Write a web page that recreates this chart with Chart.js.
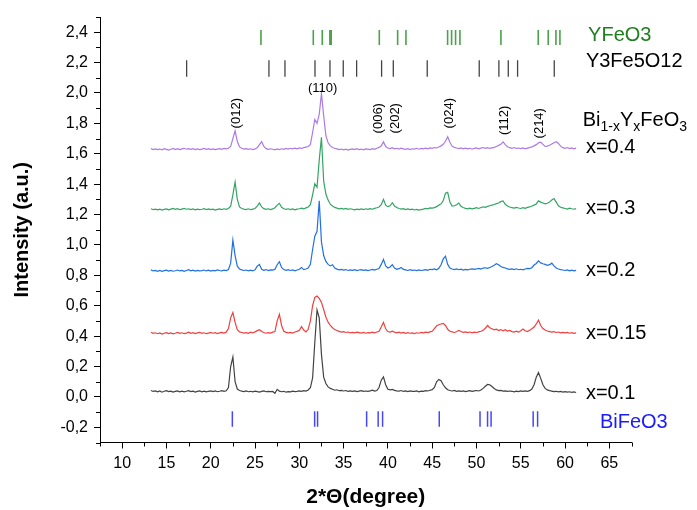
<!DOCTYPE html>
<html>
<head>
<meta charset="utf-8">
<script src="https://cdn.jsdelivr.net/npm/chart.js@4/dist/chart.umd.min.js"></script>
<style>
  body { margin: 0; background: #fff; }
</style>
</head>
<body>
<canvas id="xrd" width="697" height="510"></canvas>
<script>
Chart.defaults.font.family = '"Liberation Sans", Arial, sans-serif';
Chart.defaults.color = '#000';

// 2theta grid of the scans
const angles = [
  13.25,13.5,13.75,
  14,14.25,14.5,14.75, 15,15.25,15.5,15.75, 16,16.25,16.5,16.75, 17,17.25,17.5,17.75,
  18,18.25,18.5,18.75, 19,19.25,19.5,19.75, 20,20.25,20.5,20.75, 21,21.25,21.5,21.75,
  22,22.25,22.5,22.75, 23,23.25,23.5,23.75, 24,24.25,24.5,24.75, 25,25.25,25.5,25.75,
  26,26.25,26.5,26.75, 27,27.25,27.5,27.75, 28,28.25,28.5,28.75, 29,29.25,29.5,29.75,
  30,30.25,30.5,30.75, 31,31.25,31.5,31.75, 32,32.25,32.5,32.75, 33,33.25,33.5,33.75,
  34,34.25,34.5,34.75, 35,35.25,35.5,35.75, 36,36.25,36.5,36.75, 37,37.25,37.5,37.75,
  38,38.25,38.5,38.75, 39,39.25,39.5,39.75, 40,40.25,40.5,40.75, 41,41.25,41.5,41.75,
  42,42.25,42.5,42.75, 43,43.25,43.5,43.75, 44,44.25,44.5,44.75, 45,45.25,45.5,45.75,
  46,46.25,46.5,46.75, 47,47.25,47.5,47.75, 48,48.25,48.5,48.75, 49,49.25,49.5,49.75,
  50,50.25,50.5,50.75, 51,51.25,51.5,51.75, 52,52.25,52.5,52.75, 53,53.25,53.5,53.75,
  54,54.25,54.5,54.75, 55,55.25,55.5,55.75, 56,56.25,56.5,56.75, 57,57.25,57.5,57.75,
  58,58.25,58.5,58.75, 59,59.25,59.5,59.75, 60,60.25,60.5,60.75,
  61,61.25
];

// intensities (with vertical offsets)
const scanX01 = [
  .042,.036,.040,
  .034,.039,.031,.037, .041,.035,.038,.032, .036,.040,.034,.038, .033,.037,.041,.035,
  .038,.032,.036,.040, .034,.038,.033,.037, .040,.035,.039,.034, .037,.041,.036,.040,
  .062,.200,.262,.100, .052,.042,.038,.035, .039,.034,.037,.033, .038,.035,.032,.036,
  .040,.034,.037,.035, .036,.024,.050,.038, .034,.037,.031,.035, .033,.038,.035,.036,
  .040,.037,.041,.038, .046,.060,.125,.360, .572,.520,.280,.130, .088,.066,.056,.050,
  .044,.047,.041,.043, .039,.042,.037,.040, .036,.040,.035,.038, .041,.036,.039,.037,
  .040,.044,.038,.042, .062,.110,.132,.080, .050,.046,.049,.043, .040,.038,.042,.036,
  .039,.035,.040,.037, .036,.040,.034,.038, .037,.041,.039,.044, .048,.062,.100,.115,
  .106,.080,.060,.047, .042,.039,.043,.037, .040,.036,.039,.035, .038,.041,.036,.040,
  .042,.039,.046,.056, .070,.082,.080,.068, .055,.046,.041,.043, .038,.040,.036,.039,
  .037,.033,.038,.035, .039,.036,.040,.037, .041,.052,.080,.130, .160,.122,.080,.056,
  .046,.041,.038,.035, .037,.033,.036,.032, .035,.031,.034,.030,
  .033,.029
];

const scanX015 = [
  .425,.418,.422,
  .416,.421,.414,.419, .423,.417,.421,.415, .419,.424,.418,.422, .416,.420,.426,.419,
  .423,.417,.421,.425, .418,.422,.416,.420, .424,.419,.423,.417, .421,.425,.420,.426,
  .450,.520,.555,.490, .442,.428,.424,.420, .423,.418,.426,.421, .428,.436,.442,.430,
  .424,.419,.423,.420, .426,.430,.500,.543, .470,.432,.425,.421, .424,.420,.427,.431,
  .438,.462,.440,.428, .445,.500,.600,.655, .664,.648,.622,.575, .525,.492,.470,.455,
  .443,.437,.431,.426, .429,.424,.427,.422, .425,.421,.426,.423, .420,.424,.419,.423,
  .422,.426,.421,.427, .432,.460,.491,.448, .430,.427,.433,.426, .422,.426,.420,.424,
  .418,.423,.419,.421, .417,.422,.419,.424, .421,.426,.423,.428, .432,.450,.468,.475,
  .480,.484,.470,.445, .432,.428,.424,.429, .438,.430,.425,.428, .423,.427,.422,.426,
  .424,.428,.432,.438, .452,.470,.455,.448, .441,.446,.437,.443, .435,.442,.433,.438,
  .430,.427,.432,.426, .436,.447,.435,.430, .438,.448,.460,.480, .505,.470,.450,.440,
  .434,.430,.426,.429, .424,.427,.422,.425, .421,.424,.419,.423,
  .418,.421
];

const scanX02 = [
  .836,.829,.833,
  .827,.832,.826,.831, .834,.828,.833,.827, .830,.835,.829,.833, .827,.832,.837,.830,
  .834,.828,.833,.829, .831,.835,.829,.834, .828,.833,.830,.836, .832,.829,.834,.831,
  .838,.880,1.032,.930, .860,.842,.836,.832, .835,.830,.834,.829, .836,.860,.872,.840,
  .833,.838,.831,.836, .834,.840,.870,.890, .852,.838,.833,.837, .832,.836,.830,.835,
  .840,.852,.838,.842, .848,.872,.970,1.058, 1.090,1.290,1.020,.930, .892,.872,.862,.870,
  .848,.841,.836,.839, .834,.838,.832,.836, .833,.837,.831,.835, .838,.833,.836,.831,
  .835,.839,.834,.840, .845,.872,.905,.862, .848,.855,.870,.848, .840,.844,.852,.839,
  .836,.832,.837,.833, .835,.831,.836,.832, .834,.838,.833,.840, .838,.842,.836,.846,
  .870,.908,.926,.872, .848,.842,.838,.842, .837,.841,.835,.839, .836,.840,.843,.839,
  .842,.846,.841,.848, .850,.846,.852,.858, .866,.876,.870,.858, .852,.848,.843,.839,
  .842,.838,.843,.837, .840,.836,.842,.846, .844,.850,.868,.878, .895,.882,.876,.872,
  .866,.870,.880,.862, .848,.842,.838,.835, .832,.836,.830,.834,
  .829,.833
];

const scanX03 = [
  1.238,1.232,1.236,
  1.231,1.235,1.229,1.234, 1.237,1.231,1.236,1.240, 1.234,1.239,1.232,1.236, 1.240,1.235,1.238,1.233,
  1.237,1.231,1.236,1.232, 1.235,1.239,1.233,1.237, 1.232,1.236,1.230,1.234, 1.237,1.233,1.238,1.234,
  1.240,1.255,1.330,1.414, 1.300,1.250,1.240,1.236, 1.233,1.238,1.232,1.236, 1.240,1.255,1.276,1.250,
  1.239,1.234,1.238,1.233, 1.237,1.245,1.262,1.274, 1.248,1.238,1.234,1.238, 1.233,1.237,1.231,1.236,
  1.238,1.242,1.237,1.244, 1.250,1.265,1.330,1.402, 1.380,1.560,1.708,1.420, 1.335,1.295,1.268,1.256,
  1.247,1.242,1.238,1.241, 1.236,1.240,1.234,1.238, 1.235,1.231,1.236,1.232, 1.237,1.233,1.238,1.234,
  1.239,1.235,1.241,1.245, 1.250,1.265,1.300,1.262, 1.252,1.258,1.278,1.256, 1.246,1.240,1.236,1.239,
  1.233,1.237,1.232,1.235, 1.230,1.234,1.229,1.233, 1.236,1.240,1.238,1.244, 1.242,1.246,1.252,1.262,
  1.270,1.292,1.340,1.346, 1.282,1.256,1.258,1.265, 1.276,1.255,1.246,1.241, 1.238,1.242,1.237,1.241,
  1.245,1.240,1.246,1.251, 1.248,1.254,1.258,1.262, 1.266,1.272,1.276,1.285, 1.290,1.268,1.256,1.250,
  1.246,1.242,1.247,1.243, 1.240,1.245,1.241,1.247, 1.250,1.256,1.262,1.270, 1.290,1.282,1.276,1.270,
  1.274,1.282,1.296,1.305, 1.282,1.258,1.248,1.244, 1.240,1.236,1.242,1.238,
  1.235,1.239
];

const scanX04 = [
  1.634,1.628,1.632,
  1.627,1.631,1.626,1.633, 1.629,1.624,1.630,1.635, 1.628,1.633,1.627,1.632, 1.636,1.630,1.634,1.629,
  1.633,1.627,1.632,1.628, 1.631,1.635,1.629,1.634, 1.628,1.632,1.627,1.631, 1.634,1.629,1.635,1.632,
  1.636,1.648,1.700,1.751, 1.682,1.645,1.636,1.631, 1.634,1.629,1.633,1.628, 1.632,1.640,1.660,1.679,
  1.648,1.634,1.629,1.633, 1.630,1.626,1.632,1.628, 1.633,1.629,1.635,1.631, 1.636,1.632,1.637,1.633,
  1.638,1.635,1.640,1.644, 1.648,1.660,1.740,1.826, 1.800,1.860,1.997,1.850, 1.720,1.672,1.652,1.641,
  1.636,1.632,1.627,1.631, 1.626,1.630,1.624,1.629, 1.632,1.627,1.633,1.628, 1.631,1.626,1.632,1.630,
  1.627,1.633,1.629,1.636, 1.642,1.652,1.678,1.648, 1.638,1.634,1.640,1.633, 1.636,1.631,1.637,1.632,
  1.629,1.634,1.628,1.633, 1.631,1.636,1.630,1.635, 1.632,1.637,1.633,1.639, 1.636,1.641,1.638,1.645,
  1.652,1.662,1.682,1.712, 1.676,1.650,1.642,1.638, 1.634,1.639,1.633,1.637, 1.632,1.636,1.630,1.635,
  1.638,1.633,1.637,1.641, 1.636,1.640,1.635,1.639, 1.642,1.648,1.655,1.662, 1.678,1.660,1.646,1.640,
  1.636,1.641,1.635,1.638, 1.634,1.639,1.633,1.637, 1.640,1.645,1.652,1.660, 1.672,1.676,1.662,1.648,
  1.650,1.656,1.664,1.672, 1.679,1.668,1.650,1.640, 1.636,1.641,1.634,1.638,
  1.633,1.637
];

// reference patterns (stick positions, degrees)
const yfeo3Peaks = [25.67, 31.58, 32.59, 33.45, 33.6, 39.03, 41.1, 42.04, 46.74, 47.19, 47.64, 48.13, 52.76, 56.97, 58.1, 58.97, 59.42];
const garnetPeaks = [17.28, 26.57, 28.38, 31.77, 33.46, 34.96, 36.47, 39.29, 40.61, 44.44, 50.31, 52.53, 53.59, 54.64, 58.78];
const bifeo3Peaks = [22.44, 31.73, 32.06, 37.6, 38.9, 39.4, 45.8, 50.4, 51.25, 51.65, 56.4, 56.9];
const yfeo3Band = [2.315, 2.414];
const garnetBand = [2.106, 2.216];
const bifeo3Band = [-0.196, -0.095];

// axis ticks
const xMajorTicks = [10, 15, 20, 25, 30, 35, 40, 45, 50, 55, 60, 65];
const xMinorTicks = [7.5, 12.5, 17.5, 22.5, 27.5, 32.5, 37.5, 42.5, 47.5, 52.5, 57.5, 62.5, 67.5];
const yMajorTicks = [-0.2, 0, 0.2, 0.4, 0.6, 0.8, 1.0, 1.2, 1.4, 1.6, 1.8, 2.0, 2.2, 2.4];
const yMinorTicks = [-0.3, -0.1, 0.1, 0.3, 0.5, 0.7, 0.9, 1.1, 1.3, 1.5, 1.7, 1.9, 2.1, 2.3, 2.5];

// reflection labels
const hklText = ['(012)', '(006)', '(202)', '(024)', '(112)', '(214)'];
const hklAngle = [22.9, 38.9, 40.9, 46.9, 53.1, 57.1];
const hklLevel = [1.767, 1.734, 1.734, 1.767, 1.723, 1.701];

const seriesNames = ['x=0.1', 'x=0.15', 'x=0.2', 'x=0.3', 'x=0.4'];
const seriesLevels = [0.024, 0.418, 0.83, 1.243, 1.644];
const seriesColors = ['#424242', '#ef4040', '#2170e2', '#33a464', '#ad7ae4'];
const scans = [scanX01, scanX015, scanX02, scanX03, scanX04];

function sticks(peaks, band) {
    return peaks.flatMap(p => [{x: p, y: band[0]}, {x: p, y: band[1]}, {x: p, y: null}]);
}

const datasets = scans.map((s, k) => ({
    label: seriesNames[k],
    data: angles.map((a, i) => ({x: a, y: s[i]})),
    borderColor: seriesColors[k],
    borderWidth: 1.2,
    pointRadius: 0,
    tension: 0
}));

datasets.push(
    { label: 'YFeO3', data: sticks(yfeo3Peaks, yfeo3Band), borderColor: '#4aa24a', borderWidth: 1.6, pointRadius: 0, spanGaps: false },
    { label: 'Y3Fe5O12', data: sticks(garnetPeaks, garnetBand), borderColor: '#444', borderWidth: 1.3, pointRadius: 0, spanGaps: false },
    { label: 'BiFeO3', data: sticks(bifeo3Peaks, bifeo3Band), borderColor: '#4646ff', borderWidth: 1.5, pointRadius: 0, spanGaps: false }
);

const FONT = '"Liberation Sans", Arial, sans-serif';

const extras = {
    id: 'extras',
    afterDraw(chart) {
        const {ctx, scales: {x, y}} = chart;
        ctx.save();

        // minor ticks
        ctx.strokeStyle = '#000';
        ctx.lineWidth = 1;
        ctx.beginPath();
        xMinorTicks.forEach(v => {
            const px = Math.round(x.getPixelForValue(v)) + 0.5;
            ctx.moveTo(px, x.top);
            ctx.lineTo(px, x.top + 4);
        });
        yMinorTicks.forEach(v => {
            const py = Math.round(y.getPixelForValue(v)) + 0.5;
            ctx.moveTo(y.right, py);
            ctx.lineTo(y.right - 4, py);
        });
        ctx.stroke();

        // hkl labels
        ctx.fillStyle = '#000';
        ctx.font = '13px ' + FONT;
        ctx.textBaseline = 'middle';
        hklText.forEach((t, i) => {
            ctx.save();
            ctx.translate(x.getPixelForValue(hklAngle[i]), y.getPixelForValue(hklLevel[i]));
            ctx.rotate(-Math.PI / 2);
            ctx.textAlign = 'left';
            ctx.fillText(t, 0, 0);
            ctx.restore();
        });
        ctx.textAlign = 'center';
        ctx.fillText('(110)', x.getPixelForValue(32.63), y.getPixelForValue(2.03));

        // series labels
        ctx.font = '20px ' + FONT;
        ctx.textAlign = 'left';
        seriesNames.forEach((t, i) => {
            ctx.fillText(t, x.getPixelForValue(62.35), y.getPixelForValue(seriesLevels[i]));
        });

        ctx.fillStyle = '#1f7f1f';
        ctx.fillText('YFeO3', x.getPixelForValue(62.6), y.getPixelForValue(2.38));
        ctx.fillStyle = '#000';
        ctx.fillText('Y3Fe5O12', x.getPixelForValue(62.35), y.getPixelForValue(2.21));
        ctx.fillStyle = '#1a1aff';
        ctx.fillText('BiFeO3', x.getPixelForValue(63.93), y.getPixelForValue(-0.165));

        // Bi1-xYxFeO3 with subscripts
        ctx.fillStyle = '#000';
        let cx = x.getPixelForValue(62.0);
        const cy = y.getPixelForValue(1.82);
        [['Bi', 0], ['1-x', 1], ['Y', 0], ['x', 1], ['FeO', 0], ['3', 1]].forEach(([t, sub]) => {
            ctx.font = (sub ? '14px ' : '20px ') + FONT;
            ctx.fillText(t, cx, cy + (sub ? 7 : 0));
            cx += ctx.measureText(t).width;
        });

        ctx.restore();
    }
};

const xrdChart = new Chart(document.getElementById('xrd'), {
    type: 'line',
    data: { datasets: datasets },
    options: {
        responsive: false,
        animation: false,
        layout: { padding: { top: 17, right: 65.5, left: 0, bottom: 0 } },
        plugins: { legend: { display: false }, tooltip: { enabled: false } },
        scales: {
            x: {
                type: 'linear',
                min: 7.5,
                max: 67.5,
                offset: false,
                afterBuildTicks: s => { s.ticks = xMajorTicks.map(v => ({value: v})); },
                afterFit: s => { s.height = 67.5; },
                grid: { drawOnChartArea: false, drawTicks: true, tickLength: 6, color: '#000' },
                border: { color: '#000', width: 1 },
                ticks: { font: { size: 16 }, padding: 5, maxRotation: 0, autoSkip: false },
                title: { display: true, text: '2*\u0398(degree)', font: { size: 21, weight: 'bold' }, padding: { top: 0, bottom: 0 } }
            },
            y: {
                type: 'linear',
                min: -0.3,
                max: 2.5,
                afterBuildTicks: s => { s.ticks = yMajorTicks.map(v => ({value: v})); },
                afterFit: s => { s.width = 100; },
                grid: { drawOnChartArea: false, drawTicks: true, tickLength: 6, color: '#000' },
                border: { color: '#000', width: 1 },
                ticks: {
                    font: { size: 16 },
                    padding: 6,
                    autoSkip: false,
                    callback: v => v.toFixed(1).replace('.', ',')
                },
                title: { display: true, text: 'Intensity (a.u.)', font: { size: 20, weight: 'bold' }, padding: { top: 10, bottom: 10 } }
            }
        }
    },
    plugins: [extras]
});
</script>
</body>
</html>
